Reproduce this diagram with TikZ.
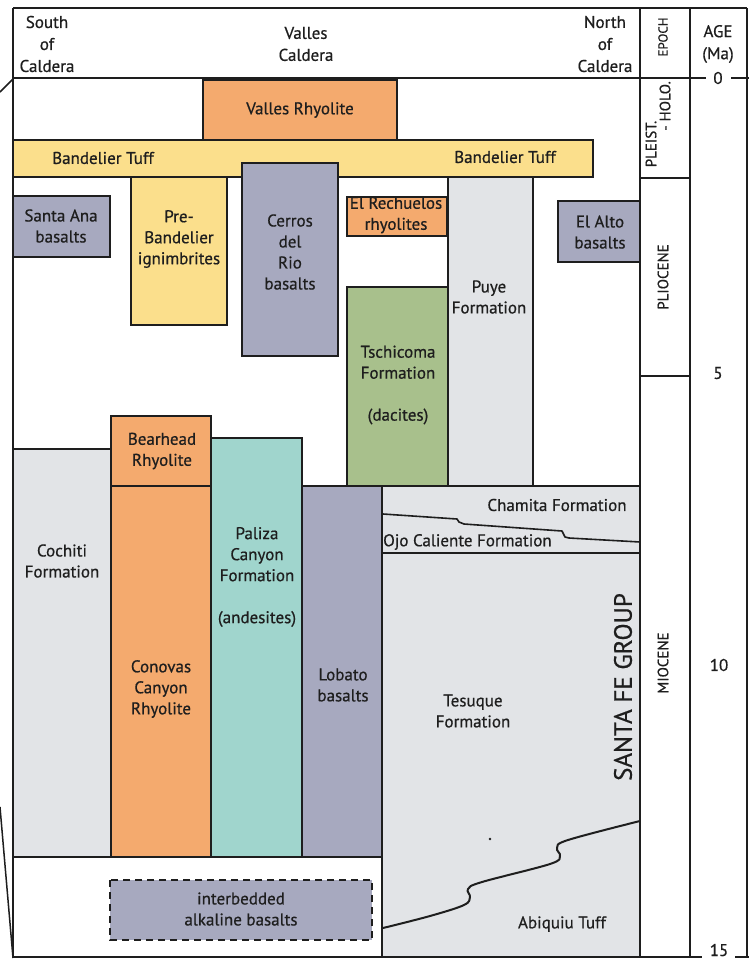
\documentclass[tikz,border=0pt]{standalone}
\usepackage{fontspec}
\setmainfont{PT Sans}[FakeBold=0.5]
\newfontfamily\lblfont{PT Sans}[FakeBold=0.6]
\definecolor{orng}{RGB}{244,170,110}
\definecolor{yell}{RGB}{251,223,140}
\definecolor{bgray}{RGB}{167,169,191}
\definecolor{lgray}{RGB}{226,228,231}
\definecolor{grn}{RGB}{168,192,140}
\definecolor{palteal}{RGB}{160,213,205}
\definecolor{ink}{RGB}{30,30,30}
\begin{document}
\begin{tikzpicture}[x=1pt,y=-1pt,
  lbl/.style={font=\lblfont\fontsize{17}{21}\selectfont, align=center, inner sep=0pt, text=ink},
  hdr/.style={font=\lblfont\fontsize{17}{22}\selectfont, align=center, inner sep=0pt, text=ink},
  eplbl/.style={font=\lblfont\fontsize{15}{17}\selectfont, inner sep=0pt, text=ink, rotate=90},
  agelbl/.style={font=\lblfont\fontsize{17}{21}\selectfont, inner sep=0pt, text=ink},
  unit/.style={draw=ink, line width=1.5pt},
  frame/.style={draw=ink, line width=1.5pt},
  contact/.style={draw=ink, line width=2pt, line cap=round, line join=round}]
\useasboundingbox (0,0) rectangle (749,962);
\fill[white] (0,0) rectangle (749,962);

% upper units
\path[unit, fill=orng] (203,80) rectangle (397,140);
\path[unit, fill=yell] (13,140) rectangle (593,177);
\path[unit, fill=bgray] (242,163) rectangle (338,356);
\path[unit, fill=bgray] (13,196) rectangle (110,257);
\path[unit, fill=yell] (131,177) rectangle (227,325);
\path[unit, fill=orng] (347,197) rectangle (447,236);
\path[unit, fill=lgray] (448,177) rectangle (533,486);
\path[unit, fill=grn] (347,287) rectangle (448,486);
\path[unit, fill=bgray] (558,201) rectangle (640,262);

% lower units
\path[unit, fill=lgray] (13,449) rectangle (111,857);
\path[unit, fill=orng] (111,416) rectangle (211,486);
\path[unit, fill=orng] (111,486) rectangle (211,857);
\path[unit, fill=palteal] (211,438) rectangle (302,857);
\path[unit, fill=bgray] (302,486) rectangle (382,857);
\path[unit, fill=lgray] (382,486) rectangle (640,957);
\draw[frame] (13,857) -- (382,857);
\path[draw=ink, line width=1.8pt, dash pattern=on 7pt off 5pt, fill=bgray] (110,880) rectangle (372,940);

% Santa Fe internal contacts
\draw[contact, line width=1.6pt] (383,514) -- (457,519) -- (459,522) -- (464,524) -- (562,531) -- (565,537) -- (569,538) -- (640,542);
\draw[frame] (382,553) -- (640,553);
\draw[contact] plot[smooth, tension=0.6] coordinates {(383,928) (430,916) (464,905) (470,897) (468,889) (482,882) (550,864) (560,856) (557,848) (568,840) (640,821)};
\fill[ink] (490,839) circle (1.3pt);

% frame
\draw[frame] (13,8) -- (747,8);
\draw[frame] (13,8) -- (13,957);
\draw[frame] (640,8) -- (640,957);
\draw[frame] (690,8) -- (690,957);
\draw[frame] (747,8) -- (747,957);
\draw[frame] (13,78) -- (706,78);
\draw[frame] (731,78) -- (749,78);
\draw[frame] (13,957) -- (702,957);
\draw[frame] (735,957) -- (749,957);
\draw[frame] (640,178) -- (690,178);
\draw[frame] (640,376) -- (690,376);
\draw[frame] (13,79) -- (0,92);
\draw[frame] (0,807) -- (13,958);

% header
\node[hdr] (hs) at (47,44) {South\\of\\Caldera};
\node[hdr] (hv) at (306,44) {Valles\\Caldera};
\node[hdr] (hn) at (605,44) {North\\of\\Caldera};
\node[eplbl, font=\lblfont\fontsize{13}{15}\selectfont] (hep) at (663,37) {EPOCH};
\node[hdr] (hage) at (718,44) {AGE\\(Ma)};

% age scale
\node[agelbl] (a0) at (718,78) {0};
\node[agelbl] (a5) at (718,373) {5};
\node[agelbl] (a10) at (719,665) {10};
\node[agelbl, anchor=base] (a15) at (719,956) {15};

% epochs
\node[eplbl] (ep1) at (651,144) {PLEIST.};
\node[eplbl] (ep2) at (665,106) {- HOLO.};
\node[eplbl] (ep3) at (663,277) {PLIOCENE};
\node[eplbl] (ep4) at (663,663) {MIOCENE};

% unit labels
\node[lbl] (vr) at (300,110) {Valles Rhyolite};
\node[lbl] (bt1) at (103,158) {Bandelier Tuff};
\node[lbl] (bt2) at (505,157) {Bandelier Tuff};
\node[lbl] (sa) at (61,226) {Santa Ana\\basalts};
\node[lbl] (pb) at (179,239) {Pre-\\Bandelier\\ignimbrites};
\node[lbl] (cr) at (290,252) {Cerros\\del\\Rio\\basalts};
\node[lbl] (er) at (396,215) {El Rechuelos\\rhyolites};
\node[lbl] (ea) at (600,232) {El Alto\\basalts};
\node[lbl] (pu) at (489,297) {Puye\\Formation};
\node[lbl] (ts) at (398,385) {Tschicoma\\Formation\\[21pt](dacites)};
\node[lbl] (bh) at (162,451) {Bearhead\\Rhyolite};
\node[lbl] (co) at (62,561) {Cochiti\\Formation};
\node[lbl] (pa) at (257,577) {Paliza\\Canyon\\Formation\\[21pt](andesites)};
\node[lbl] (cc) at (161,689) {Conovas\\Canyon\\Rhyolite};
\node[lbl] (lo) at (343,685) {Lobato\\basalts};
\node[lbl] (te) at (473,711) {Tesuque\\Formation};
\node[lbl] (ch) at (557,505) {Chamita Formation};
\node[lbl, anchor=west] (oj) at (383,542) {Ojo Caliente Formation};
\node[lbl] (ab) at (562,924) {Abiquiu Tuff};
\node[lbl] (ib) at (241,909) {interbedded\\alkaline basalts};
\node[lbl, rotate=90, font=\lblfont\fontsize{25}{30}\selectfont] (sf) at (623,687) {SANTA FE GROUP};
\end{tikzpicture}
\end{document}
